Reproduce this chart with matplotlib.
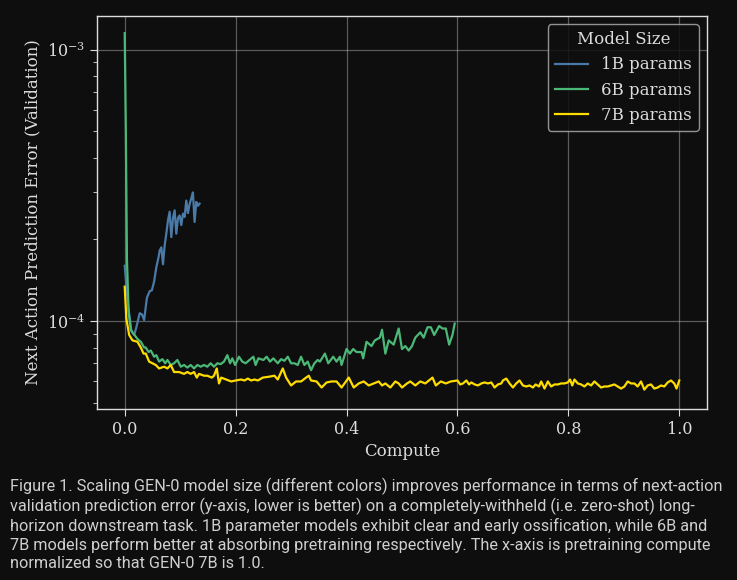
"""Scaling GEN-0 model size: next-action validation prediction error vs compute."""
import matplotlib
matplotlib.use('Agg')
import matplotlib.pyplot as plt
import numpy as np

# values; error in units of 1e-5
X_1B = [0.000, 0.006, 0.012, 0.017, 0.021, 0.027, 0.031, 0.035, 0.040, 0.045,
        0.049, 0.053, 0.057, 0.061, 0.063, 0.066, 0.069, 0.072, 0.075, 0.078,
        0.081, 0.084, 0.087, 0.090, 0.093, 0.096, 0.099, 0.102, 0.105, 0.108,
        0.111, 0.114, 0.117, 0.120, 0.123, 0.126, 0.129, 0.132, 0.135]
ERR_1B = [16.0, 11.5, 9.2, 8.9, 9.5, 10.7, 10.6, 10.1, 12.2, 12.9,
          13.0, 14.0, 15.8, 17.2, 18.2, 18.7, 16.2, 19.0, 21.0, 23.5,
          25.3, 20.4, 24.0, 25.6, 21.0, 24.0, 24.5, 22.6, 24.9, 24.2,
          27.8, 25.0, 27.0, 28.3, 29.8, 23.2, 27.5, 26.6, 27.1]

X_6B = [0.000, 0.002, 0.004, 0.007, 0.011, 0.014, 0.023, 0.029, 0.035, 0.038,
        0.043, 0.047, 0.053, 0.057, 0.062, 0.068, 0.073, 0.077, 0.083, 0.089,
        0.095, 0.101, 0.107, 0.113, 0.119, 0.125, 0.131, 0.137, 0.143, 0.149,
        0.155, 0.161, 0.167, 0.173, 0.179, 0.185, 0.190, 0.194, 0.199, 0.206,
        0.212, 0.218, 0.225, 0.232, 0.236, 0.241, 0.250, 0.256, 0.262, 0.268,
        0.276, 0.282, 0.288, 0.294, 0.300, 0.306, 0.312, 0.318, 0.324, 0.330,
        0.336, 0.342, 0.348, 0.352, 0.361, 0.367, 0.376, 0.382, 0.388, 0.391,
        0.400, 0.406, 0.412, 0.418, 0.427, 0.430, 0.436, 0.445, 0.451, 0.460,
        0.464, 0.470, 0.476, 0.485, 0.494, 0.500, 0.506, 0.512, 0.518, 0.524,
        0.533, 0.539, 0.546, 0.552, 0.558, 0.567, 0.573, 0.579, 0.585, 0.591,
        0.595]
ERR_6B = [115.0, 50.0, 17.0, 10.8, 9.3, 9.1, 8.6, 8.4, 8.0, 8.0,
          7.7, 7.8, 7.4, 7.5, 7.1, 7.25, 7.0, 7.2, 6.9, 7.0,
          7.2, 6.8, 6.9, 6.75, 6.9, 6.7, 6.9, 6.8, 6.9, 6.8,
          7.0, 6.8, 7.0, 6.95, 7.1, 7.5, 7.0, 7.3, 6.9, 7.4,
          7.1, 7.0, 7.2, 7.4, 6.9, 7.3, 7.2, 7.4, 7.1, 7.3,
          7.0, 7.25, 7.15, 7.4, 7.0, 7.0, 6.9, 7.4, 6.9, 7.1,
          6.6, 7.0, 7.2, 7.1, 7.6, 7.0, 7.4, 7.1, 7.4, 6.9,
          7.9, 7.6, 7.9, 7.7, 7.7, 7.3, 8.4, 8.1, 8.5, 8.7,
          9.3, 7.6, 8.5, 8.2, 9.4, 7.9, 8.1, 7.8, 8.1, 8.7,
          9.1, 8.7, 9.5, 9.5, 8.9, 9.6, 9.4, 9.4, 8.2, 8.9,
          9.8]

X_7B = [0.000, 0.003, 0.008, 0.014, 0.023, 0.029, 0.034, 0.038, 0.044, 0.050,
        0.056, 0.062, 0.071, 0.077, 0.083, 0.089, 0.098, 0.107, 0.113, 0.119,
        0.125, 0.130, 0.134, 0.143, 0.149, 0.157, 0.161, 0.166, 0.170, 0.174,
        0.183, 0.192, 0.200, 0.210, 0.216, 0.222, 0.228, 0.234, 0.240, 0.249,
        0.261, 0.270, 0.276, 0.285, 0.291, 0.300, 0.309, 0.318, 0.327, 0.332,
        0.336, 0.346, 0.355, 0.364, 0.373, 0.382, 0.391, 0.404, 0.413, 0.422,
        0.431, 0.440, 0.449, 0.458, 0.464, 0.470, 0.479, 0.488, 0.494, 0.500,
        0.509, 0.515, 0.524, 0.533, 0.542, 0.555, 0.561, 0.570, 0.579, 0.588,
        0.600, 0.605, 0.610, 0.616, 0.621, 0.625, 0.631, 0.637, 0.643, 0.649,
        0.655, 0.661, 0.667, 0.673, 0.679, 0.682, 0.688, 0.694, 0.700, 0.706,
        0.712, 0.718, 0.724, 0.730, 0.736, 0.741, 0.747, 0.751, 0.757, 0.763,
        0.769, 0.775, 0.781, 0.787, 0.793, 0.799, 0.803, 0.807, 0.811, 0.817,
        0.823, 0.829, 0.835, 0.841, 0.847, 0.853, 0.859, 0.865, 0.871, 0.877,
        0.883, 0.889, 0.895, 0.901, 0.907, 0.913, 0.919, 0.925, 0.931, 0.937,
        0.943, 0.949, 0.955, 0.961, 0.967, 0.973, 0.979, 0.985, 0.991, 0.995,
        1.000]
ERR_7B = [13.4, 10.2, 8.9, 8.5, 8.4, 8.0, 7.6, 7.6, 7.1, 7.0,
          6.9, 6.7, 6.8, 6.7, 6.9, 6.5, 6.5, 6.4, 6.5, 6.4,
          6.5, 6.2, 6.4, 6.3, 6.3, 6.2, 6.3, 6.7, 5.9, 6.2,
          6.1, 6.0, 6.05, 6.1, 6.05, 6.15, 6.05, 6.1, 6.05, 6.2,
          6.25, 6.3, 6.1, 6.7, 6.2, 5.8, 6.0, 6.0, 6.2, 6.3,
          6.05, 6.0, 5.7, 5.95, 6.0, 6.0, 5.7, 6.2, 5.7, 5.9,
          6.0, 5.8, 5.9, 6.0, 5.8, 5.9, 5.7, 6.0, 5.9, 5.7,
          5.9, 6.0, 5.8, 6.0, 5.9, 6.2, 5.8, 6.0, 5.9, 6.0,
          6.05, 5.85, 5.9, 6.05, 5.85, 5.95, 5.85, 5.8, 5.9, 5.95,
          5.9, 5.95, 5.7, 5.85, 5.9, 6.05, 6.15, 5.9, 5.7, 5.9,
          6.05, 5.8, 5.75, 5.8, 5.7, 5.85, 5.75, 6.0, 5.65, 6.0,
          5.75, 5.85, 5.85, 5.9, 5.9, 5.95, 6.1, 5.8, 6.1, 5.9,
          5.85, 5.75, 5.9, 5.8, 6.0, 5.85, 5.7, 5.75, 5.75, 5.8,
          5.85, 5.75, 5.65, 5.75, 6.0, 5.9, 5.9, 5.75, 6.0, 5.6,
          5.8, 5.85, 5.65, 5.7, 5.8, 5.75, 5.95, 6.05, 5.9, 5.65,
          6.05]

SERIES = (
    ('1B params', X_1B, ERR_1B, '#4a7aa8'),
    ('6B params', X_6B, ERR_6B, '#4cb878'),
    ('7B params', X_7B, ERR_7B, '#ffdc00'),
)

CAPTION = (
    'Figure 1. Scaling GEN-0 model size (different colors) improves performance in terms of next-action\n'
    'validation prediction error (y-axis, lower is better) on a completely-withheld (i.e. zero-shot) long-\n'
    'horizon downstream task. 1B parameter models exhibit clear and early ossification, while 6B and\n'
    '7B models perform better at absorbing pretraining respectively. The x-axis is pretraining compute\n'
    'normalized so that GEN-0 7B is 1.0.'
)

BG = '#0e0e0e'
FG = '#dcdcdc'


def main() -> None:
    plt.rcParams['font.family'] = 'DejaVu Serif'
    plt.rcParams['mathtext.fontset'] = 'dejavuserif'

    fig = plt.figure(figsize=(7.37, 5.80), dpi=100, facecolor=BG)
    ax = fig.add_axes((0.1316, 0.2948, 0.8277, 0.6776), facecolor=BG)

    for label, xs, errs, colour in SERIES:
        ax.plot(xs, np.asarray(errs) * 1e-5, color=colour, lw=1.6, label=label)

    ax.set_yscale('log')
    ax.set_xlim(-0.05, 1.05)
    ax.set_ylim(4.75e-5, 1.33e-3)
    ax.set_xticks([0.0, 0.2, 0.4, 0.6, 0.8, 1.0])
    ax.grid(True, which='major', color='#bbbbbb', alpha=0.45, lw=0.9)

    for spine in ax.spines.values():
        spine.set_color(FG)
        spine.set_linewidth(1.0)
    ax.tick_params(which='both', colors=FG, labelsize=11.5)
    ax.tick_params(which='major', length=5)
    ax.tick_params(which='minor', length=3)

    ax.set_xlabel('Compute', color=FG, fontsize=12)
    ax.set_ylabel('Next Action Prediction Error (Validation)', color=FG, fontsize=12)

    leg = ax.legend(title='Model Size', loc='upper right', fontsize=12,
                    title_fontsize=12, facecolor=BG, edgecolor='#aaaaaa',
                    framealpha=0.85, handlelength=2.0)
    for text in leg.get_texts():
        text.set_color(FG)
    leg.get_title().set_color(FG)

    fig.text(0.0136, 0.177, CAPTION, ha='left', va='top', color='#cfcfcf',
             fontsize=11.7, family=['Roboto', 'DejaVu Sans'], linespacing=1.24)

    fig.savefig('out.png', dpi=100, facecolor=BG)
    plt.close(fig)


if __name__ == '__main__':
    main()
